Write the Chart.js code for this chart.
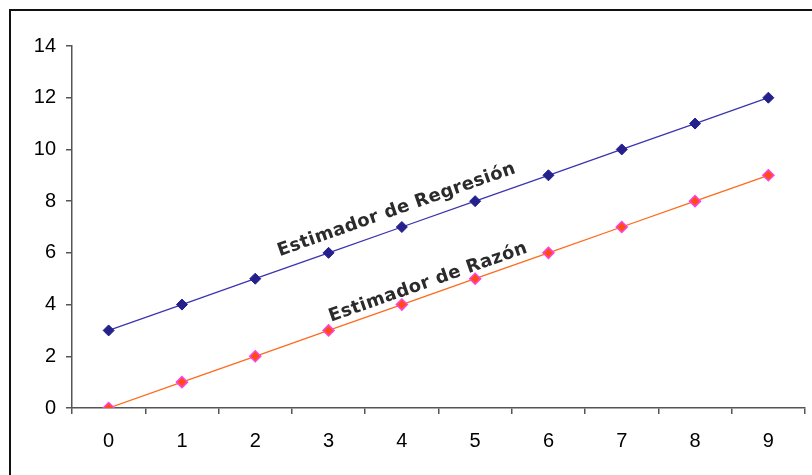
<!DOCTYPE html>
<html>
<head>
<meta charset="utf-8">
<script src="https://cdn.jsdelivr.net/npm/chart.js@4/dist/chart.umd.min.js"></script>
<style>
html,body{margin:0;padding:0;background:#fff;}
#wrap{width:812px;height:475px;position:relative;}
</style>
</head>
<body>
<div id="wrap"><canvas id="c" width="812" height="475"></canvas></div>
<script>
const categories = ['0','1','2','3','4','5','6','7','8','9'];
const regresion = [3,4,5,6,7,8,9,10,11,12];
const razon = [0,1,2,3,4,5,6,7,8,9];
const yTicks = [0,2,4,6,8,10,12,14];
const labelRegresion = 'Estimador de Regresión';
const labelRazon = 'Estimador de Razón';
// annotation anchor positions in data units (category index, value)
const posRegresion = [3.93, 7.66];
const posRazon = [4.36, 4.85];

const frame = {
  id: 'frame',
  beforeDraw(chart) {
    const ctx = chart.ctx;
    ctx.save();
    ctx.fillStyle = '#fff';
    ctx.fillRect(0, 0, chart.width, chart.height);
    ctx.strokeStyle = '#111';
    ctx.lineWidth = 2;
    ctx.strokeRect(10, 10, 1000, 1000);
    ctx.restore();
  }
};

const labels = {
  id: 'labels',
  afterDatasetsDraw(chart) {
    const ctx = chart.ctx;
    const xs = chart.scales.x, ys = chart.scales.y;
    const items = [[labelRegresion, posRegresion, 0], [labelRazon, posRazon, 1]];
    items.forEach(([txt, pos, di]) => {
      const meta = chart.getDatasetMeta(di).data;
      const p0 = meta[0], p1 = meta[meta.length - 1];
      const ang = Math.atan2(p1.y - p0.y, p1.x - p0.x);
      const x = xs.getPixelForValue(pos[0]);
      const y = ys.getPixelForValue(pos[1]);
      ctx.save();
      ctx.translate(x, y);
      ctx.rotate(ang);
      ctx.font = 'bold 18px "DejaVu Sans"';
      ctx.letterSpacing = '0.4px';
      ctx.fillStyle = '#2b2b2b';
      ctx.textAlign = 'center';
      ctx.textBaseline = 'middle';
      ctx.fillText(txt, 0, 0);
      ctx.restore();
    });
  }
};

new Chart(document.getElementById('c'), {
  type: 'line',
  data: {
    labels: categories,
    datasets: [
      {
        data: regresion,
        borderColor: '#3a35b0',
        borderWidth: 1.3,
        pointStyle: 'rectRot',
        pointRadius: 5.5,
        pointBackgroundColor: '#24208c',
        pointBorderColor: '#24208c',
        pointBorderWidth: 1,
        tension: 0
      },
      {
        data: razon,
        borderColor: '#ff6a1e',
        borderWidth: 1.3,
        pointStyle: 'rectRot',
        pointRadius: 5.5,
        pointBackgroundColor: '#ff4d12',
        pointBorderColor: '#ff40e0',
        pointBorderWidth: 1.5,
        tension: 0
      }
    ]
  },
  options: {
    responsive: false,
    animation: false,
    events: [],
    layout: { padding: { left: 0, top: 46, right: 4, bottom: 0 } },
    plugins: { legend: { display: false }, tooltip: { enabled: false } },
    scales: {
      x: {
        offset: true,
        grid: { display: true, drawOnChartArea: false, drawTicks: true, tickLength: 6, offset: true, color: '#555', lineWidth: 1.5 },
        border: { display: true, color: '#555', width: 1.5 },
        ticks: { color: '#000', font: { family: '"Liberation Sans", Arial, sans-serif', size: 20 }, padding: 15, maxRotation: 0 },
        afterFit(s) { s.height = 67; }
      },
      y: {
        min: 0, max: 14,
        afterBuildTicks(s) { s.ticks = yTicks.map(v => ({ value: v })); },
        grid: { display: true, drawOnChartArea: false, drawTicks: true, tickLength: 6, color: '#555', lineWidth: 1.5 },
        border: { display: true, color: '#555', width: 1.5 },
        ticks: { color: '#000', font: { family: '"Liberation Sans", Arial, sans-serif', size: 20 }, padding: 10 },
        afterFit(s) { s.width = 72; }
      }
    }
  },
  plugins: [frame, labels]
});
</script>
</body>
</html>
